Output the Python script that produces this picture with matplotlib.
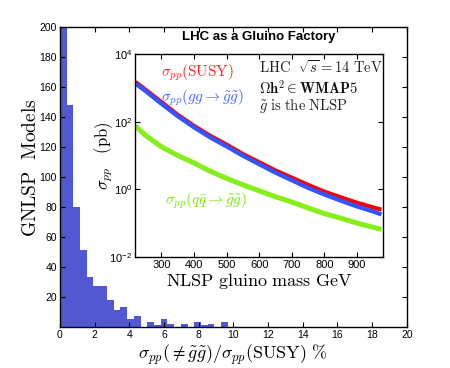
"""GNLSP models histogram with gluino cross-section inset."""

import matplotlib
matplotlib.use("Agg")
import matplotlib.pyplot as plt
import numpy as np

plt.rcParams["mathtext.fontset"] = "cm"
plt.rcParams["font.family"] = ["Liberation Sans Narrow", "DejaVu Sans Condensed", "Liberation Sans", "DejaVu Sans"]

# Histogram: fraction of non-gluino-pair cross section (%), bin width ~0.39
bin_width = 0.3875
counts = [230, 148, 80, 51, 33, 27, 27, 18, 11, 13, 5, 7, 0, 3, 1, 5, 2, 0, 2, 0, 3, 1, 2, 0, 3]

# Inset: cross sections (pb) vs NLSP gluino mass (GeV)
mass = [220, 250, 300, 350, 400, 450, 500, 550, 600, 650, 700, 750, 800, 850, 900, 950, 975]
sigma_susy = [1500, 900, 380, 160, 75, 38, 21, 11, 6.3, 3.6, 2.2, 1.35, 0.85, 0.58, 0.40, 0.29, 0.25]
sigma_gg = [1350, 820, 340, 145, 68, 34, 18.5, 9.8, 5.5, 3.1, 1.85, 1.1, 0.70, 0.46, 0.31, 0.22, 0.18]
sigma_qq = [75, 40, 18, 10, 6.0, 3.4, 2.1, 1.35, 0.90, 0.60, 0.42, 0.28, 0.19, 0.14, 0.10, 0.075, 0.065]

fig = plt.figure(figsize=(4.5, 3.68), dpi=100)
ax = fig.add_axes([0.133, 0.112, 0.771, 0.815])

left_edges = np.arange(len(counts)) * bin_width
ax.bar(left_edges, counts, width=bin_width, align="edge", color="#5258d2", linewidth=0)
ax.set_xlim(0, 20)
ax.set_ylim(0, 200)
ax.set_xticks(range(0, 21, 2))
ax.set_yticks(range(20, 201, 20))
ax.tick_params(direction="in", length=3.5, width=0.8, labelsize=7.5, pad=2, top=True, right=True)
for s in ax.spines.values():
    s.set_linewidth(1.0)
ax.set_ylabel(r"$\mathrm{GNLSP\ \ Models}$", fontsize=14)
ax.yaxis.set_label_coords(-0.058, 0.53)
ax.set_xlabel(r"$\sigma_{pp}(\neq\tilde{g}\tilde{g})/\sigma_{pp}(\mathrm{SUSY})\ \%$", fontsize=13, labelpad=2)

# Inset
ins = fig.add_axes([0.300, 0.302, 0.551, 0.551])
ins.set_yscale("log")
ins.plot(mass, sigma_susy, color="#ff0000", lw=3.0, solid_capstyle="butt")
ins.plot(mass, sigma_gg, color="#3355ff", lw=3.0, solid_capstyle="butt")
ins.plot(mass, sigma_qq, color="#77ee00", lw=3.6, alpha=0.9, solid_capstyle="butt")
ins.set_xlim(219, 980)
ins.set_ylim(1e-2, 1e4)
ins.set_xticks(range(300, 901, 100))
ins.set_yticks([1e-2, 1e0, 1e2, 1e4])
ins.minorticks_off()
ins.tick_params(direction="in", length=3.5, width=0.8, labelsize=8, pad=2, top=True, right=True)
for s in ins.spines.values():
    s.set_linewidth(1.0)
ins.set_title("LHC as a Gluino Factory", fontsize=9.5, fontweight="bold", pad=10)
ins.set_xlabel(r"$\mathrm{NLSP\ gluino\ mass\ GeV}$", fontsize=13, labelpad=1)
ins.set_ylabel(r"$\sigma_{pp}\quad\mathrm{(pb)}$", fontsize=12)
ins.yaxis.set_label_coords(-0.08, 0.5)

ins.text(0.105, 0.96, r"$\sigma_{pp}(\mathrm{SUSY})$", color="#ff2020", fontsize=11,
         transform=ins.transAxes, va="top")
ins.text(0.105, 0.835, r"$\sigma_{pp}(gg\rightarrow\tilde{g}\tilde{g})$", color="#4466ff", fontsize=11,
         transform=ins.transAxes, va="top")
ins.text(0.12, 0.325, r"$\sigma_{pp}(q\bar{q}\rightarrow\tilde{g}\tilde{g})$", color="#77ee00", fontsize=11,
         transform=ins.transAxes, va="top")
ins.text(0.50, 0.975, r"$\mathrm{LHC}\ \ \sqrt{s}=14\ \mathrm{TeV}$", color="#222222", fontsize=10.5,
         transform=ins.transAxes, va="top")
ins.text(0.50, 0.875, r"$\mathbf{\Omega h^2}\in\mathbf{WMAP5}$", color="#111111", fontsize=10.5,
         transform=ins.transAxes, va="top")
ins.text(0.50, 0.79, r"$\tilde{g}\ \mathrm{is\ the\ NLSP}$", color="#222222", fontsize=10.5,
         transform=ins.transAxes, va="top")

fig.savefig("out.png", dpi=100)
